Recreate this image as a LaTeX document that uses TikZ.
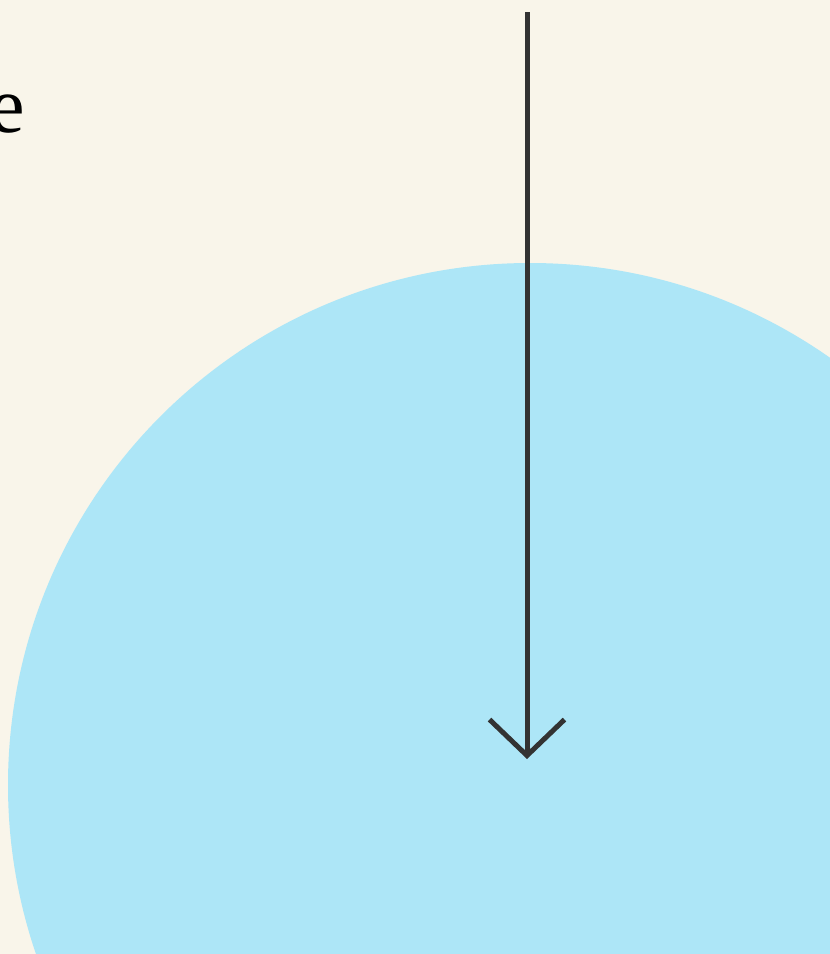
\documentclass[tikz,border=0pt]{standalone}
\usepackage{fontspec}
\setmainfont{Liberation Serif}
\usetikzlibrary{arrows.meta}
\definecolor{paper}{HTML}{F9F5EA}
\definecolor{pool}{HTML}{ADE6F7}
\definecolor{ink}{HTML}{333333}
\tikzset{pointer/.style={ink,line width=5pt,-{Straight Barb[length=36pt,width=75pt]}}}

\begin{document}
\begin{tikzpicture}[x=1pt,y=-1pt]
\fill[paper] (0,0) rectangle (830,954);
\useasboundingbox (0,0) rectangle (830,954);
\fill[pool] (530,785) circle[radius=522];
\node[font=\fontsize{80}{90}\selectfont,anchor=base east,inner sep=0pt] (word) at (25,132) {e};
\coordinate (top) at (527,12);
\coordinate (tip) at (527,759);
\draw[pointer] (top) -- (tip);
\end{tikzpicture}
\end{document}
